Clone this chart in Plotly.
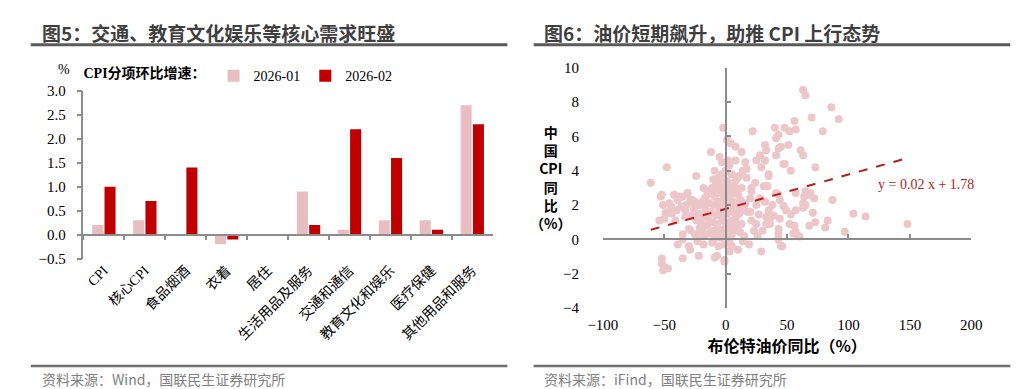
import plotly.graph_objects as go

# ---------------- data: left chart (CPI components, m/m %) ----------------
categories = ["CPI", "核心CPI", "食品烟酒", "衣着", "居住", "生活用品及服务",
              "交通和通信", "教育文化和娱乐", "医疗保健", "其他用品和服务"]
series_jan = [0.2, 0.3, 0.0, -0.2, 0.0, 0.9, 0.1, 0.3, 0.3, 2.7]
series_feb = [1.0, 0.7, 1.4, -0.1, 0.0, 0.2, 2.2, 1.6, 0.1, 2.3]
series_names = ["2026-01", "2026-02"]
bar_y_ticks = [-0.5, 0.0, 0.5, 1.0, 1.5, 2.0, 2.5, 3.0]

# ---------------- data: right chart (Brent y/y vs China CPI y/y) ----------------
brent_yoy = [
    63, 65, 86, 92, 70, 79, 56, 40, 48, 52, 57, 43, 41, 51, 45, 43, 41, 32, 33, 61,
    63, 32, 47, 73, 53, 35, 31, 41, 65, 69, 57, 43, 65, 63, 35, 33, 48,
    -2, 22, -12, 4, 8, 13, 28, -3, 3, 16, 25, 29, -48, -9, -24, -61, 17, 9, 17,
    34, -1, -18, 21, -52, -38, -31, -13, -7, 1, -11,
    -53, -51, -48, -44, -40, -39, -35, -31, -27, -33, -25, -21, -17, -54, -50,
    -30, -35, -39, -25, -21, -17, -13, -9, -6, -30, -23, -18, -11, -6, -1, 5, 3,
    -7, -1, -22, -35, -52, -52, -50, -47, -51, 10, 15, 29, 13, 21, 27, 33, 36,
    15, 10, 21, -49, -29, -23, -41, -33, -29, -21, -35, -23, -17, -9,
    -9, -1, 46, 43, 59, 14, -29,
    87, 104, 114, 148, 97, 83, 81, 73, 68, 60, 45, 43, 43, 43, 44, 52, 56, 57, 55,
    49, 53, 57, 63, 65, 71, 72, 68, 64, 35, 36, 33, 32, 44, 47,
    -14, -12, -10, -8, -6, -4, -2, 0, 2, 4, 6, 8, 10, -15, -11, -7, -3, 1, 5, 9,
    12, -1, 3, -5, -9, 7, 11, -13, 0, 2, -2, 4, 6, -4, -6, 14, -16, -18, -20, -19,
    16, 18, 20, 8, -8, 1, 3, -3, 5, -1, 12, -12, 9, -10, 0, 1, -2, 2, 4, -7,
    6, 10, -15, -17, 7, 13, -4, -8, 3, -6, 0, 5, -3, 11, 2, -5, 8, 14, -10,
    -28, -24, -26, -22, -19, -32, -36, -44, -46, -42,
    23, 26, 30, 20, 25, 28, 24, 38, 39, 19, 25,
]
china_cpi_yoy = [
    8.7, 8.4, 7.7, 7.0, 7.1, 6.3, 6.9, 6.5, 6.5, 6.3, 6.4, 6.1, 5.9, 5.5, 5.4, 5.3, 4.9, 5.5, 5.2, 5.2,
    4.9, 4.6, 4.4, 4.2, 4.0, 3.8, 3.1, 2.7, 2.8, 2.7, 2.7, 2.6, 2.6, 2.1, 3.7, 3.1, 4.4,
    6.5, 6.3, 5.1, 5.6, 5.4, 5.1, 4.9, 4.5, 4.3, 4.5, 4.6, 4.2, 4.2, 4.0, 3.7, 3.3, 4.1, 3.5, 3.6,
    3.1, 3.35, 3.0, 3.0, 2.6, 2.5, 2.7, 2.8, 2.7, 5.8, 3.0,
    2.5, 2.0, 1.6, 1.5, 1.7, 2.3, 2.5, 2.6, 2.3, 1.7, 2.2, 2.0, 2.4, 1.1, 1.2,
    0.6, 0.3, -0.3, 0.3, 0.45, 0.2, 0.35, 0.1, 0.35, -0.4, -0.1, -0.3, -0.2, -0.4, -0.3, -0.4, -0.7,
    -0.95, -1.2, -0.95, -1.1, -1.1, -1.4, -1.6, -1.7, -1.8, -0.6, 0.2, -0.7, 0.9, 1.1, 1.45, 1.3, 0.9,
    1.85, 2.6, 2.8, 1.56, 2.2, 2.0, 1.1, 1.3, 0.55, 0.7, 0.0, 0.05, 0.3, 0.05,
    -1.05, -1.3, -0.4, 0.05, 0.2, -0.1, -0.6,
    2.3, 1.5, 1.34, 0.9, 0.45, 1.1, 0.7, 1.0, 0.8, 0.17, -0.4, 0.0, 0.35, 0.6, 1.2, 0.9, 0.8, 0.45, 0.35,
    1.7, 1.45, 1.7, 1.85, 2.0, 1.55, 2.4, 2.6, 2.5, 1.7, 1.2, 0.9, 2.2, 2.3, 1.95,
    1.2, 1.6, 2.0, 1.4, 1.8, 2.2, 2.6, 3.0, 2.4, 2.0, 1.6, 1.2, 0.8, 0.8, 0.5, 0.9, 1.1, 1.5, 1.1, 1.9,
    2.3, 1.9, 3.1, 2.9, 2.5, 2.7, 1.5, 2.1, 0.7, 0.3, 0.2, 0.6, 2.2, 1.4, 0.6, 1.7, 1.7, 1.3, 1.0, 0.6,
    2.1, 1.6, 2.4, 3.0, 3.2, 3.4, 2.8, 3.3, 0.3, 0.5, 0.4, 2.9, 0.5, 1.0, 2.2, 1.0, 1.3, 1.8, 2.6, 2.2,
    0.9, 2.9, 2.6, 1.9, 3.3, 3.0, 0.1, 0.2, -0.1, 3.6, 4.0, 3.8, 3.8, 3.7, 4.6, 4.8, 4.6, 4.0, 3.5,
    1.4, 1.1, 1.8, 1.5, 2.2, 2.0, 1.9, 1.9, 2.1, 2.6,
    0.5, 0.2, 0.5, 1.6, 2.0, 2.4, 3.3, 2.0, 1.4, -0.3, 0.9,
]
trend_slope = 0.02
trend_intercept = 1.78
trend_x_range = [-61, 145]
scatter_x_ticks = [-100, -50, 0, 50, 100, 150, 200]
scatter_y_ticks = [-4, -2, 0, 2, 4, 6, 8, 10]

# ---------------- layout helpers ----------------
W, H = 1024, 389
def fx(px):
    return px / W
def fy(py):
    return 1 - py / H

GRAY = "#8c8c8c"
SERIF = "Liberation Serif, Times New Roman, Noto Sans CJK SC, serif"
SANS = "Noto Sans CJK SC, Microsoft YaHei, sans-serif"
LIGHT = "#E8BEC1"
DARK = "#C00000"
DOT = "#EDC6C9"

fig = go.Figure()

# bars
fig.add_trace(go.Bar(x=categories, y=series_jan, name=series_names[0],
                     marker=dict(color=LIGHT, line=dict(width=0)),
                     xaxis="x", yaxis="y"))
fig.add_trace(go.Bar(x=categories, y=series_feb, name=series_names[1],
                     marker=dict(color=DARK, line=dict(width=0)),
                     xaxis="x", yaxis="y"))
# carrier (no marks) so that the zero-line axis of the bar chart gets drawn
fig.add_trace(go.Scatter(x=categories, y=[None] * len(categories), mode="markers",
                         showlegend=False, hoverinfo="skip", xaxis="x3", yaxis="y"))

# scatter
fig.add_trace(go.Scatter(x=brent_yoy, y=china_cpi_yoy, mode="markers",
                         marker=dict(size=8, color=DOT, line=dict(width=0)),
                         showlegend=False, xaxis="x2", yaxis="y2"))
trend_y = [trend_slope * v + trend_intercept for v in trend_x_range]
fig.add_trace(go.Scatter(x=trend_x_range, y=trend_y, mode="lines",
                         line=dict(color="#B71C1C", width=2, dash="dash"),
                         showlegend=False, xaxis="x2", yaxis="y2"))
# carriers (no marks) for the axes that cross at zero
fig.add_trace(go.Scatter(x=[], y=[], mode="markers", showlegend=False,
                         hoverinfo="skip", xaxis="x4", yaxis="y2"))
fig.add_trace(go.Scatter(x=[], y=[], mode="markers", showlegend=False,
                         hoverinfo="skip", xaxis="x2", yaxis="y3"))

# domains
L_dom_x = [fx(62), fx(482)]
L_dom_y = [fy(253), fy(78)]
L_range = [-0.5, 3.0]
L_xrange = [-0.5, len(categories) - 0.5]
L_zero = L_dom_y[0] + (0 - L_range[0]) / (L_range[1] - L_range[0]) * (L_dom_y[1] - L_dom_y[0])

R_dom_x = [fx(595), fx(973)]
R_dom_y = [fy(304.6), fy(54)]
R_xr = [-100, 200]
R_yr = [-4, 10]
R_yzero = R_dom_y[0] + (0 - R_yr[0]) / (R_yr[1] - R_yr[0]) * (R_dom_y[1] - R_dom_y[0])
R_xzero = R_dom_x[0] + (0 - R_xr[0]) / (R_xr[1] - R_xr[0]) * (R_dom_x[1] - R_dom_x[0])

fig.update_layout(
    width=W, height=H, autosize=False,
    margin=dict(l=0, r=0, t=0, b=0),
    paper_bgcolor="white", plot_bgcolor="white",
    barmode="group", bargap=0.4, bargroupgap=0.1,
    font=dict(family=SERIF, color="#000000", size=14),
    legend=dict(orientation="h", x=fx(60), y=fy(46), xanchor="left", yanchor="top",
                title=dict(text="<b>CPI分项环比增速：</b>", side="left",
                           font=dict(family=SERIF, size=14)),
                font=dict(family=SERIF, size=14), bgcolor="rgba(0,0,0,0)",
                itemwidth=30, tracegroupgap=0),
    xaxis=dict(domain=L_dom_x, anchor="y", type="category", categoryorder="array",
               categoryarray=categories, range=L_xrange, showline=False, ticks="",
               showgrid=False, zeroline=False, tickangle=-45,
               tickfont=dict(family=SERIF, size=14, color="#000")),
    xaxis3=dict(overlaying="x", anchor="free", position=L_zero, domain=L_dom_x,
                type="category", categoryorder="array", categoryarray=categories,
                range=L_xrange, showline=True, linecolor=GRAY, linewidth=1.5,
                ticks="outside", tickson="boundaries", ticklen=5, tickcolor=GRAY,
                tickwidth=1.5, showticklabels=False, showgrid=False, zeroline=False),
    yaxis=dict(domain=L_dom_y, anchor="x", range=L_range, tickvals=bar_y_ticks,
               tickformat=".1f", showline=True, linecolor=GRAY, linewidth=1.5,
               ticks="outside", ticklen=5, tickcolor=GRAY, tickwidth=1.5,
               showgrid=False, zeroline=False, ticklabelstandoff=8,
               tickfont=dict(family=SERIF, size=15, color="#000")),
    xaxis2=dict(domain=R_dom_x, anchor="y2", range=R_xr, tickvals=scatter_x_ticks,
                showline=False, ticks="outside", ticklen=3, tickcolor="rgba(0,0,0,0)",
                showgrid=False, zeroline=False,
                tickfont=dict(family=SERIF, size=15, color="#000"),
                title=dict(text="<b>布伦特油价同比（%）</b>", standoff=0,
                           font=dict(family=SANS, size=16, color="#000"))),
    yaxis2=dict(domain=R_dom_y, anchor="x2", range=R_yr, tickvals=scatter_y_ticks,
                showline=False, ticks="outside", ticklen=20, tickcolor="rgba(0,0,0,0)",
                showgrid=False, zeroline=False,
                tickfont=dict(family=SERIF, size=15, color="#000")),
    xaxis4=dict(overlaying="x2", anchor="free", position=R_yzero, domain=R_dom_x,
                range=R_xr, tickvals=scatter_x_ticks, showline=True, linecolor=GRAY,
                linewidth=1.5, ticks="inside", ticklen=5, tickcolor=GRAY, tickwidth=1.5,
                showticklabels=False, showgrid=False, zeroline=False),
    yaxis3=dict(overlaying="y2", anchor="free", position=R_xzero, domain=R_dom_y,
                range=R_yr, tickvals=scatter_y_ticks, showline=True, linecolor=GRAY,
                linewidth=1.5, ticks="inside", ticklen=5, tickcolor=GRAY, tickwidth=1.5,
                showticklabels=False, showgrid=False, zeroline=False),
)

annotations = []
# titles
annotations.append(dict(text="<b>图5：交通、教育文化娱乐等核心需求旺盛</b>", x=fx(17), y=fy(17),
                        xref="paper", yref="paper", xanchor="left", yanchor="middle",
                        showarrow=False, font=dict(family=SANS, size=19, color="#3f3f3f")))
annotations.append(dict(text="<b>图6：油价短期飙升，助推 CPI 上行态势</b>", x=fx(533), y=fy(17),
                        xref="paper", yref="paper", xanchor="left", yanchor="middle",
                        showarrow=False, font=dict(family=SANS, size=19, color="#3f3f3f")))
# sources
annotations.append(dict(text="资料来源：Wind，国联民生证券研究所", x=fx(17), y=fy(379),
                        xref="paper", yref="paper", xanchor="left", yanchor="middle",
                        showarrow=False, font=dict(family=SANS, size=14, color="#808080")))
annotations.append(dict(text="资料来源：iFind，国联民生证券研究所", x=fx(533), y=fy(379),
                        xref="paper", yref="paper", xanchor="left", yanchor="middle",
                        showarrow=False, font=dict(family=SANS, size=14, color="#808080")))
# % unit
annotations.append(dict(text="%", x=fx(42), y=fy(56), xref="paper", yref="paper",
                        xanchor="center", yanchor="middle", showarrow=False,
                        font=dict(family=SERIF, size=14, color="#000")))
# vertical (stacked) y-title of the scatter
annotations.append(dict(text="<b>中<br>国<br>CPI<br>同<br>比<br>（%）</b>", x=fx(541), y=fy(168),
                        xref="paper", yref="paper", xanchor="center", yanchor="middle",
                        showarrow=False, align="center",
                        font=dict(family=SANS, size=14, color="#000")))
# regression equation
annotations.append(dict(text="y = 0.02 x + 1.78", x=163, y=3.2, xref="x2", yref="y2",
                        xanchor="center", yanchor="middle", showarrow=False,
                        font=dict(family=SERIF, size=14, color="#B22222")))
fig.update_layout(annotations=annotations)

shapes = []
for x0, x1 in [(8, 497), (524, 1013)]:
    shapes.append(dict(type="line", xref="paper", yref="paper", x0=fx(x0), x1=fx(x1),
                       y0=fy(30), y1=fy(30), line=dict(color="#5a5a5a", width=3)))
    shapes.append(dict(type="line", xref="paper", yref="paper", x0=fx(x0), x1=fx(x1),
                       y0=fy(365), y1=fy(365), line=dict(color="#6e6e6e", width=2.5)))
fig.update_layout(shapes=shapes)

fig.write_html("out.html")
